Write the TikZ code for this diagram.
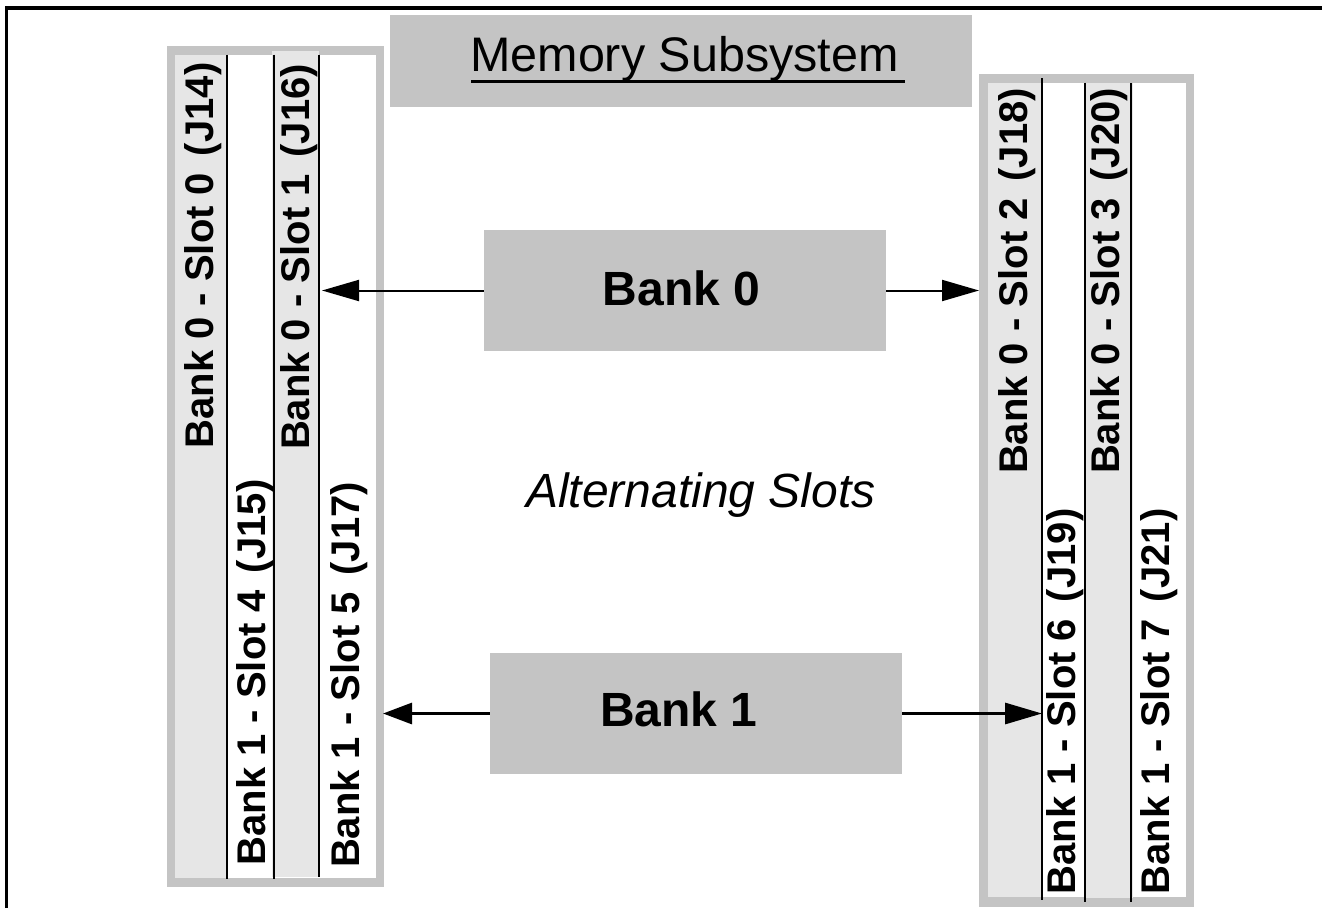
\documentclass[tikz,border=0pt]{standalone}
\usepackage{fontspec}
\setmainfont{Liberation Sans}
\usetikzlibrary{arrows.meta}
\definecolor{boxgray}{RGB}{196,196,196}
\definecolor{colgray}{RGB}{230,230,230}
\newcommand{\jgap}{\hspace{0.42em}}
\begin{document}
\begin{tikzpicture}[x=1pt,y=-1pt,
  slotline/.style={line width=1.8pt},
  slottext/.style={rotate=90,anchor=base,inner sep=0pt,font=\fontsize{40}{40}\selectfont\bfseries},
  bankbox/.style={fill=boxgray,draw=none,inner sep=0pt},
  banktext/.style={anchor=base,inner sep=0pt,font=\fontsize{48}{48}\selectfont\bfseries},
  conn/.style={-{Triangle[length=37pt,width=21pt]},line width=2pt},
  conntwo/.style={-{Triangle[length=37pt,width=21pt]},line width=3pt},
  connshort/.style={-{Triangle[length=29pt,width=21pt]},line width=3pt}]
\useasboundingbox (0,0) rectangle (1322,908);
\fill[white] (0,0) rectangle (1322,908);
% outer frame
\draw[line width=3.3pt] (6.5,908) -- (6.5,8) -- (1322,8);
% title
\node[bankbox,minimum width=582pt,minimum height=92pt] (title) at (681,61) {};
\node[anchor=base,inner sep=0pt,font=\fontsize{48.5}{48.5}\selectfont] (titletext) at (684.5,71) {Memory Subsystem};
\draw[line width=3pt] (471,81) -- (905,81);
% left panel
\fill[boxgray] (167,46) rectangle (384,887);
\fill[white] (175,54.5) rectangle (376,878);
\fill[colgray] (175,54.5) rectangle (227.3,878);
\fill[colgray] (271.5,51) rectangle (319.3,877);
\draw[slotline] (227.3,54.5) -- (227.3,879);
\draw[slotline] (274.3,54.5) -- (274.3,879);
\draw[slotline] (319.3,54.5) -- (319.3,877);
% right panel
\fill[boxgray] (979,74) rectangle (1194,907);
\fill[white] (987.5,82.5) rectangle (1186,897);
\fill[colgray] (987.5,82.5) rectangle (1042.3,897);
\fill[colgray] (1085.3,83) rectangle (1133,898);
\draw[slotline] (1042.3,78) -- (1042.3,900);
\draw[slotline] (1085.3,82.5) -- (1085.3,902);
\draw[slotline] (1130.7,83) -- (1130.7,902);
% slot labels
\node[slottext] (j14) at (213,255.5) {Bank 0 - Slot 0\jgap(J14)};
\node[slottext] (j16) at (309,257) {Bank 0 - Slot 1\jgap(J16)};
\node[slottext] (j15) at (265,672.5) {Bank 1 - Slot 4\jgap(J15)};
\node[slottext] (j17) at (359,675) {Bank 1 - Slot 5\jgap(J17)};
\node[slottext] (j18) at (1027,281) {Bank 0 - Slot 2\jgap(J18)};
\node[slottext] (j20) at (1119,281) {Bank 0 - Slot 3\jgap(J20)};
\node[slottext] (j19) at (1075,701.5) {Bank 1 - Slot 6\jgap(J19)};
\node[slottext] (j21) at (1169,701.5) {Bank 1 - Slot 7\jgap(J21)};
% bank boxes
\node[bankbox,minimum width=402pt,minimum height=121pt] (b0) at (685,290.5) {};
\node[banktext] (b0text) at (681.5,305) {Bank 0};
\node[bankbox,minimum width=412pt,minimum height=121pt] (b1) at (696,713.5) {};
\node[banktext] (b1text) at (679,726) {Bank 1};
% alternating
\node[anchor=base,inner sep=0pt,font=\fontsize{48}{48}\selectfont\itshape] (alt) at (701,507) {Alternating Slots};
% arrow tips
\coordinate (t0l) at (322,290.5);
\coordinate (t0r) at (979,290.5);
\coordinate (t1l) at (383,713.5);
\coordinate (t1r) at (1042,713.5);
\draw[conn] (b0.west) -- (t0l);
\draw[conn] (b0.east) -- (t0r);
\draw[connshort] (b1.west) -- (t1l);
\draw[conntwo] (b1.east) -- (t1r);
\end{tikzpicture}
\end{document}
